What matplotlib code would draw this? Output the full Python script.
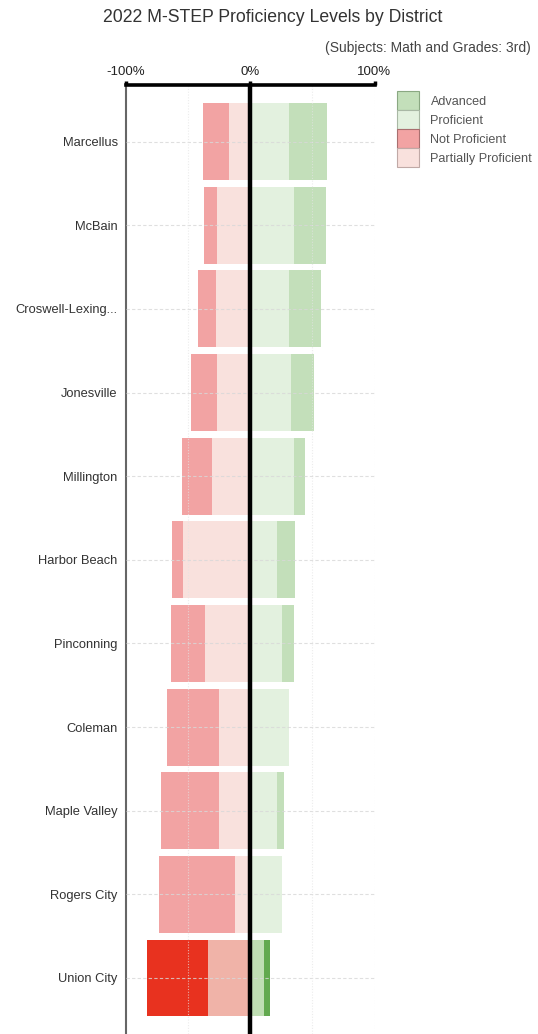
import matplotlib
matplotlib.use("Agg")
import matplotlib.pyplot as plt
from matplotlib.patches import Patch
import numpy as np

plt.rcParams['font.family'] = ['Liberation Sans', 'DejaVu Sans']

districts = ["Marcellus", "McBain", "Croswell-Lexing...", "Jonesville", "Millington",
             "Harbor Beach", "Pinconning", "Coleman", "Maple Valley", "Rogers City",
             "Union City"]
partially_proficient = [17.4, 26.7, 27.8, 26.7, 31.0, 53.9, 36.6, 25.1, 25.1, 12.6, 34.4]
not_proficient = [20.5, 10.6, 14.6, 21.0, 23.8, 8.8, 27.2, 42.1, 46.9, 60.6, 48.8]
proficient = [31.4, 34.9, 31.4, 32.8, 34.9, 21.3, 25.8, 31.4, 21.3, 25.6, 10.9]
advanced = [30.7, 25.9, 25.9, 18.6, 8.8, 14.7, 9.1, 0.0, 5.6, 0.0, 4.6]
highlight = "Union City"

x_ticks = [-100, 0, 100]
x_tick_labels = ["-100%", "0%", "100%"]

base_colors = {"Advanced": "#c3dfba", "Proficient": "#e3f1df",
               "Not Proficient": "#f2a3a3", "Partially Proficient": "#f9e1dd"}
hi_colors = {"Advanced": "#62a94f", "Proficient": "#bfdeb3",
             "Not Proficient": "#e8321f", "Partially Proficient": "#f0b3a8"}
edge_colors = {"Advanced": "#8aa882", "Proficient": "#a9b8a5",
               "Not Proficient": "#a86f6f", "Partially Proficient": "#c0a9a6"}

W, H = 538, 1034
fig = plt.figure(figsize=(W / 100, H / 100), dpi=100)
ax = fig.add_axes([126 / W, 0, (374.5 - 126) / W, 1 - 85 / H])

y = np.arange(len(districts))
pp = np.array(partially_proficient)
npf = np.array(not_proficient)
pr = np.array(proficient)
ad = np.array(advanced)
h = 0.92

for i, name in enumerate(districts):
    cols = hi_colors if name == highlight else base_colors
    ax.barh(y[i], -pp[i], height=h, color=cols["Partially Proficient"], zorder=2)
    ax.barh(y[i], -npf[i], left=-pp[i], height=h, color=cols["Not Proficient"], zorder=2)
    ax.barh(y[i], pr[i], height=h, color=cols["Proficient"], zorder=2)
    ax.barh(y[i], ad[i], left=pr[i], height=h, color=cols["Advanced"], zorder=2)

ax.set_xlim(-100, 100)
ax.set_ylim(10.67, -0.678)

# light dashed grid over the bars
for yy in y:
    ax.axhline(yy, color="#d8d8d8", lw=0.8, ls=(0, (3, 2)), zorder=3, alpha=0.8)
for xx in [-50, 50, 100]:
    ax.axvline(xx, color="#e4e4e4", lw=0.8, ls=(0, (1, 1.5)), zorder=3, alpha=0.7)

ax.axvline(0, color="black", lw=3.2, zorder=4)

ax.set_yticks(y)
ax.set_yticklabels(districts, fontsize=9.3, color="#333333")
ax.tick_params(axis="y", length=0, pad=6)

ax.xaxis.tick_top()
ax.set_xticks(x_ticks)
ax.set_xticklabels(x_tick_labels, fontsize=9.5, color="#222222")
ax.tick_params(axis="x", length=3, width=2.5, color="black", pad=2)

for s in ["right", "bottom"]:
    ax.spines[s].set_visible(False)
ax.spines["top"].set_linewidth(2.6)
ax.spines["top"].set_color("black")
ax.spines["left"].set_linewidth(1.5)
ax.spines["left"].set_color("#666666")
ax.spines["top"].set_zorder(5)

fig.text(273 / W, 1 - 17 / H, "2022 M-STEP Proficiency Levels by District",
         ha="center", va="center", fontsize=12.7, color="#333333")
fig.text(531 / W, 1 - 48 / H, "(Subjects: Math and Grades: 3rd)",
         ha="right", va="center", fontsize=10, color="#444444")

labels = ["Advanced", "Proficient", "Not Proficient", "Partially Proficient"]
handles = [Patch(facecolor=base_colors[l], edgecolor=edge_colors[l], linewidth=0.8, label=l)
           for l in labels]
fig.legend(handles=handles, loc="upper left", bbox_to_anchor=(397 / W, 1 - 91 / H),
           frameon=False, fontsize=9.1, labelcolor="#555555", handlelength=1.75,
           handleheight=1.95, labelspacing=0.0, handletextpad=0.9, borderpad=0,
           borderaxespad=0)

fig.savefig("out.png", dpi=100, facecolor="white")
